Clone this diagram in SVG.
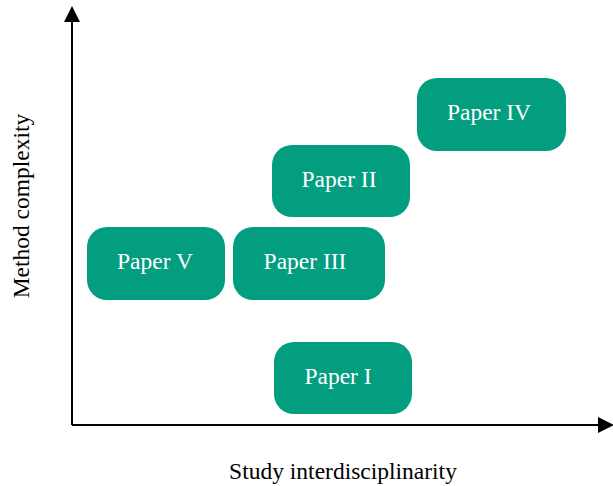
<svg xmlns="http://www.w3.org/2000/svg" width="613" height="486" viewBox="0 0 613 486">
<style>
.box{fill:#039E7F;}
.lbl{font-family:"Liberation Serif","Times New Roman",serif;font-size:23.5px;fill:#ffffff;text-anchor:middle;dominant-baseline:central;}
.ax{font-family:"Liberation Serif","Times New Roman",serif;font-size:23.5px;fill:#000000;text-anchor:middle;}
.axis{stroke:#000;stroke-width:2;fill:none;}
</style>
<g id="connectors">
<path class="axis" d="M72,425 L72,22"/>
<path d="M64,22 L72,6 L80,22 z" fill="#000"/>
<path class="axis" d="M72,425 L598,425"/>
<path d="M598,417 L614,425 L598,433 z" fill="#000"/>
</g>
<g id="paper-iv"><rect class="box" x="417" y="78" width="149" height="73" rx="20"/><text class="lbl" x="489" y="112">Paper IV</text></g>
<g id="paper-ii"><rect class="box" x="272" y="145" width="138" height="72" rx="20"/><text class="lbl" x="339" y="179">Paper II</text></g>
<g id="paper-v"><rect class="box" x="87" y="227" width="138" height="73" rx="20"/><text class="lbl" x="155" y="261">Paper V</text></g>
<g id="paper-iii"><rect class="box" x="233" y="227" width="152" height="73" rx="20"/><text class="lbl" x="305" y="261">Paper III</text></g>
<g id="paper-i"><rect class="box" x="274" y="342" width="138" height="72" rx="20"/><text class="lbl" x="338" y="376">Paper I</text></g>
<g id="x-label"><text class="ax" x="343" y="479">Study interdisciplinarity</text></g>
<g id="y-label"><text class="ax" transform="translate(29,206) rotate(-90)">Method complexity</text></g>
</svg>
